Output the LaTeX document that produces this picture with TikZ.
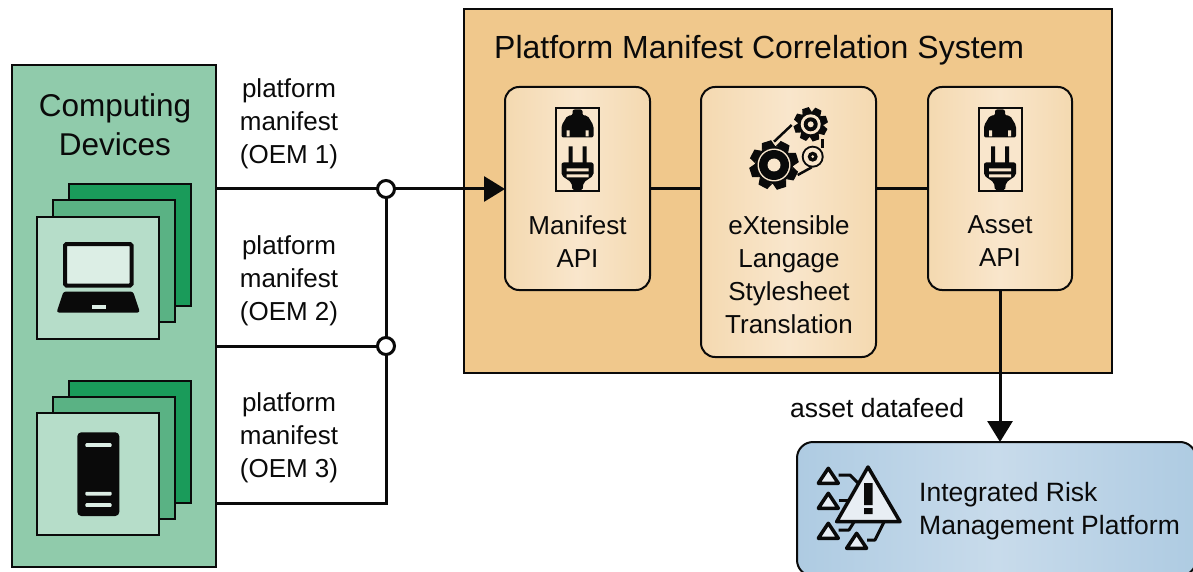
\documentclass[tikz,border=0pt]{standalone}
\usepackage{fontspec}
\setmainfont{Liberation Sans}
\usetikzlibrary{arrows.meta}
\definecolor{devgreen}{HTML}{90CBAB}
\definecolor{cardfront}{HTML}{B6DDC9}
\definecolor{cardmid}{HTML}{5AB284}
\definecolor{cardback}{HTML}{1A9B5A}
\definecolor{lightscreen}{HTML}{DCEEE5}
\definecolor{sysorange}{HTML}{F0C88C}
\definecolor{boxedge}{HTML}{F4D9B0}
\definecolor{boxmid}{HTML}{F9E6CC}
\definecolor{ink}{HTML}{0A0A0A}
\definecolor{blueedge}{HTML}{AECBE2}
\definecolor{bluemid}{HTML}{C8DBEB}
\definecolor{warnfill}{HTML}{E8EEF4}
\newcommand{\gearicon}[5]{%
  \begin{scope}[shift={(#1,#2)}]
    \fill[ink] (0,0) circle (#4);
    \foreach \i in {1,...,#5}{
      \fill[ink,rotate=\i*360/#5+18] (-#4*0.36,-#4+1) -- (-#3*0.2,-#3) -- (#3*0.2,-#3) -- (#4*0.36,-#4+1) -- cycle;
    }
  \end{scope}}
\tikzset{
  x=1pt,y=-1pt,
  rectbox/.style={draw=ink,line width=2pt,inner sep=0pt,outer sep=0pt,rectangle},
  stackcard/.style={rectbox,minimum width=122pt,minimum height=122pt},
  apibox/.style={rectbox,rounded corners=14pt,left color=boxedge,right color=boxedge,middle color=boxmid},
  wire/.style={draw=ink,line width=3pt},
  junction/.style={circle,draw=ink,fill=white,line width=3pt,minimum size=17pt,inner sep=0pt,outer sep=0pt},
  label/.style={align=center,text=ink,inner sep=0pt,font=\fontsize{26}{33}\selectfont},
  bigtext/.style={align=center,text=ink,inner sep=0pt,font=\fontsize{31.5}{39.5}\selectfont},
  plugicon/.pic={
    \draw[ink,fill=boxmid,line width=2pt] (-21.5,-41.5) rectangle (21.5,41.5);
    \fill[ink,rounded corners=2pt] (-5,-40) -- (5,-40) -- (5,-34) -- (10,-34) -- (16,-24) -- (16,-12) -- (-16,-12) -- (-16,-24) -- (-10,-34) -- (-5,-34) -- cycle;
    \fill[boxmid] (-11,-19) rectangle (-8,-13) (8,-19) rectangle (11,-13);
    \fill[ink] (-9,-3) rectangle (-5,14) (5,-3) rectangle (9,14);
    \fill[ink,rounded corners=2pt] (-16,13) -- (16,13) -- (16,26) -- (6,33) -- (5,41) -- (-5,41) -- (-6,33) -- (-16,26) -- cycle;
    \fill[boxmid] (-11,19) rectangle (11,22) (-11,25) rectangle (11,28);
  }
}
\begin{document}
\begin{tikzpicture}
\useasboundingbox (0,0) rectangle (1193,572);
% Computing devices
\node[rectbox,fill=devgreen,minimum width=204pt,minimum height=502pt] (dev) at (114,316) {};
\node[bigtext] (devt) at (115,124.5) {Computing\\Devices};
\node[stackcard,fill=cardback] (c1b) at (130,245) {};
\node[stackcard,fill=cardmid] (c1m) at (114,261) {};
\node[stackcard,fill=cardfront] (c1f) at (98,277.5) {};
\node[stackcard,fill=cardback] (c2b) at (130,441.5) {};
\node[stackcard,fill=cardmid] (c2m) at (114,458) {};
\node[stackcard,fill=cardfront] (c2f) at (98,474) {};
% laptop
\draw[ink,fill=lightscreen,line width=4pt,rounded corners=1.5pt] (65,244) rectangle (131.5,285.5);
\fill[ink,rounded corners=2.5pt] (63.5,291.5) -- (133,291.5) -- (140,312.5) -- (56.5,312.5) -- cycle;
\fill[lightscreen] (91.5,305) rectangle (106,309);
% server
\fill[ink,rounded corners=4pt] (77.3,432.3) rectangle (119.3,516);
\fill[lightscreen,rounded corners=1pt] (85.3,443.2) rectangle (111.7,446.8) (85.3,491.9) rectangle (111.7,495.5) (85.3,503.2) rectangle (111.7,506.8);
% system
\node[rectbox,fill=sysorange,minimum width=648pt,minimum height=364pt] (sys) at (788,191) {};
\node[text=ink,inner sep=0pt,anchor=west,font=\fontsize{32}{38}\selectfont] (syst) at (494,50) {Platform Manifest Correlation System};
\node[apibox,minimum width=145pt,minimum height=203pt] (man) at (577.5,188.5) {};
\node[apibox,minimum width=175pt,minimum height=270pt] (xsl) at (788.5,222) {};
\node[apibox,minimum width=144pt,minimum height=203pt] (ast) at (1000,188.5) {};
\pic at (577.5,149.5) {plugicon};
\pic at (1000,149.5) {plugicon};
\node[label] (mant) at (577.5,241.5) {Manifest\\API};
\node[label] (xslt) at (789,275) {eXtensible\\Langage\\Stylesheet\\Translation};
\node[label] (astt) at (1000,241.5) {Asset\\API};
% gears
\gearicon{774}{165}{24.5}{19}{8}
\fill[boxmid] (774,165) circle (16.5);
\fill[ink] (774,165) circle (15);
\fill[boxmid] (774,165) circle (6.5);
\gearicon{810.7}{124.3}{17}{13}{8}
\fill[boxmid] (810.7,124.3) circle (10);
\fill[ink] (810.7,124.3) circle (7);
\fill[boxmid] (810.7,124.3) circle (3);
\fill[ink] (812.7,156.7) circle (11);
\fill[boxmid] (812.7,156.7) circle (9);
\fill[ink] (812.7,156.7) circle (5);
\fill[boxmid] (812.7,156.7) circle (1.5);
\draw[ink,line width=2.5pt] (774,141.7) -- (791.7,125);
\draw[ink,line width=2.5pt] (822.7,139.3) -- (822.7,148.3);
\draw[ink,line width=2.5pt] (797.7,175) -- (811.7,167.3);
% labels
\node[label] (l1) at (289,124) {platform\\manifest\\(OEM 1)};
\node[label] (l2) at (289,281) {platform\\manifest\\(OEM 2)};
\node[label] (l3) at (289,438) {platform\\manifest\\(OEM 3)};
\node[label,anchor=west,font=\fontsize{26.5}{33}\selectfont] (feedt) at (790,408.5) {asset datafeed};
% wires
\node[junction] (j1) at (386,189) {};
\node[junction] (j2) at (386,346) {};
\coordinate (j3) at (386,503);
\draw[wire] (dev.east |- j1) -- (j1);
\draw[wire] (dev.east |- j2) -- (j2);
\draw[wire] (dev.east |- j3) -- (j3) -- (j2) -- (j1);
\draw[wire,-{Triangle[length=21pt,width=25pt]}] (j1) -- (man.west |- j1);
\draw[wire] (man.east) -- (man.east -| xsl.west);
\draw[wire] (man.east -| xsl.east) -- (ast.west);
% risk platform
\begin{scope}
\clip (0,0) rectangle (1193,572);
\node[rectbox,rounded corners=16pt,left color=blueedge,right color=blueedge,middle color=bluemid,minimum width=399pt,minimum height=134pt] (irm) at (996.5,509) {};
\end{scope}
\draw[wire,-{Triangle[length=21pt,width=25pt]}] (ast.south) -- (ast.south |- irm.north);
\node[label,anchor=west,align=left,font=\fontsize{26.5}{33}\selectfont] (irmt) at (919,511) {Integrated Risk\\Management Platform};
% warning icon
\begin{scope}[ink,line width=3pt,line join=round]
\draw (838.5,475) -- (850,475) -- (860,485);
\draw (838.5,500) -- (848,500);
\draw (838.5,530) -- (849,530) -- (854,522);
\draw (867,540) -- (875,540) -- (884,522);
\foreach \dx/\dy in {0/0,0/25,0/55,28.3/65}{
  \draw[fill=warnfill,shift={(\dx,\dy)},line width=3.5pt] (828.3,468.3) -- (818.3,483.3) -- (838.3,483.3) -- cycle;
}
\draw[fill=warnfill,line width=3.5pt] (868,467) -- (836.7,521.7) -- (900,521.7) -- cycle;
\fill (864,483) rectangle (872.7,505) (864,508) rectangle (872.7,514);
\end{scope}
\end{tikzpicture}
\end{document}
